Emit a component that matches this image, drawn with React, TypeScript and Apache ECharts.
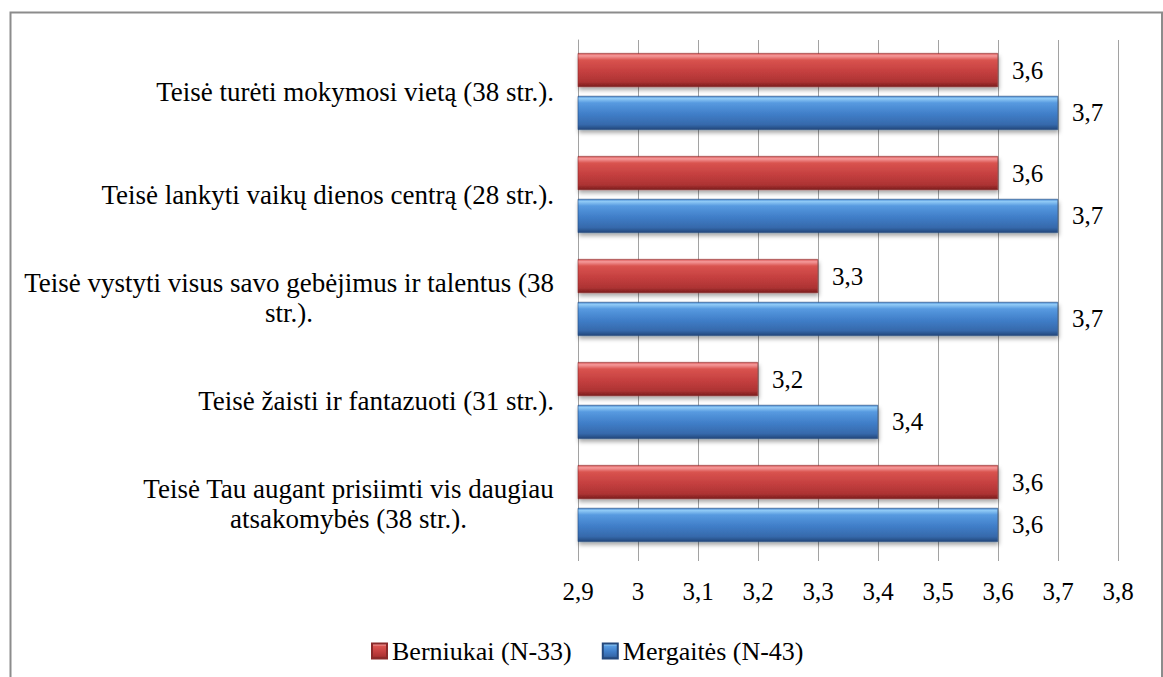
import React, { useEffect, useRef } from "react";
import * as echarts from "echarts";

const categories = [
  "Teisė turėti mokymosi vietą (38 str.).",
  "Teisė lankyti vaikų dienos centrą (28 str.).",
  "Teisė vystyti visus savo gebėjimus ir talentus (38\nstr.).",
  "Teisė žaisti ir fantazuoti (31 str.).",
  "Teisė Tau augant prisiimti vis daugiau\natsakomybės (38 str.).",
];
const seriesNames = ["Berniukai (N-33)", "Mergaitės (N-43)"];
const boysValues = [3.6, 3.6, 3.3, 3.2, 3.6];
const girlsValues = [3.7, 3.7, 3.7, 3.4, 3.6];
const axisMin = 2.9;
const axisMax = 3.8;
const axisStep = 0.1;

const FONT = "Liberation Serif";
const GRID = "#a2a2a2";

const fmt = (v: number) => String(Number(v.toFixed(1))).replace(".", ",");

const redGrad = new echarts.graphic.LinearGradient(0, 0, 0, 1, [
  { offset: 0, color: "#d85555" },
  { offset: 0.07, color: "#f59a9a" },
  { offset: 0.2, color: "#d9534f" },
  { offset: 0.55, color: "#c43f3f" },
  { offset: 0.85, color: "#ad3333" },
  { offset: 1, color: "#7a1f1f" },
]);
const blueGrad = new echarts.graphic.LinearGradient(0, 0, 0, 1, [
  { offset: 0, color: "#4d8ed6" },
  { offset: 0.07, color: "#90caf6" },
  { offset: 0.2, color: "#579ae0" },
  { offset: 0.55, color: "#3f7dc7" },
  { offset: 0.85, color: "#3669ab" },
  { offset: 1, color: "#22467a" },
]);

export default function App() {
  const ref = useRef<HTMLDivElement>(null);
  useEffect(() => {
    if (!ref.current) return;
    const chart = echarts.init(ref.current, undefined, { renderer: "svg" });
    const label = {
      show: true,
      position: "right",
      distance: 14,
      color: "#000",
      fontFamily: FONT,
      fontSize: 25,
      formatter: (p: any) => fmt(p.value),
    };
    const shadow = {
      shadowColor: "rgba(0,0,0,0.35)",
      shadowBlur: 4,
      shadowOffsetX: 1,
      shadowOffsetY: 3,
    };
    chart.setOption({
      animation: false,
      backgroundColor: "#fff",
      textStyle: { fontFamily: FONT },
      graphic: [
        {
          type: "rect",
          silent: true,
          z: -10,
          shape: { x: 10.5, y: 12.5, width: 1151.5, height: 700 },
          style: { fill: "none", stroke: "#8c8c8c", lineWidth: 2 },
        },
      ],
      legend: {
        left: 366,
        top: 633,
        itemWidth: 15,
        itemHeight: 15,
        itemGap: 30,
        icon: "rect",
        textStyle: { fontFamily: FONT, fontSize: 26, color: "#000" },
        data: seriesNames,
      },
      grid: { left: 578, right: 45, top: 40, bottom: 122, containLabel: false },
      xAxis: {
        type: "value",
        min: axisMin,
        max: axisMax,
        interval: axisStep,
        axisLine: { show: false },
        axisTick: { show: true, length: 6, lineStyle: { color: GRID } },
        splitLine: { show: true, lineStyle: { color: GRID, width: 1 } },
        axisLabel: {
          margin: 24,
          color: "#000",
          fontFamily: FONT,
          fontSize: 25,
          formatter: (v: number) => fmt(v),
        },
      },
      yAxis: {
        type: "category",
        inverse: true,
        data: categories,
        axisLine: { show: true, lineStyle: { color: GRID, width: 1 } },
        axisTick: { show: false },
        axisLabel: {
          interval: 0,
          margin: 24,
          color: "#000",
          fontFamily: FONT,
          fontSize: 27,
          formatter: (v: string) =>
            v
              .split("\n")
              .map((l) => `{c|${l}}`)
              .join("\n"),
          rich: {
            c: {
              align: "center",
              fontFamily: FONT,
              fontSize: 27,
              lineHeight: 30,
              color: "#000",
            },
          },
        },
      },
      series: [
        {
          name: seriesNames[0],
          type: "bar",
          data: boysValues,
          barWidth: 34,
          barGap: "26%",
          itemStyle: { color: redGrad, borderColor: "#8a2a2a", borderWidth: 0.6, ...shadow },
          label,
        },
        {
          name: seriesNames[1],
          type: "bar",
          data: girlsValues,
          barWidth: 34,
          barGap: "26%",
          itemStyle: { color: blueGrad, borderColor: "#24487c", borderWidth: 0.6, ...shadow },
          label,
        },
      ],
    });
    return () => chart.dispose();
  }, []);
  return (
    <div
      ref={ref}
      style={{ position: "absolute", left: 0, top: 0, width: 1163, height: 677 }}
    />
  );
}
